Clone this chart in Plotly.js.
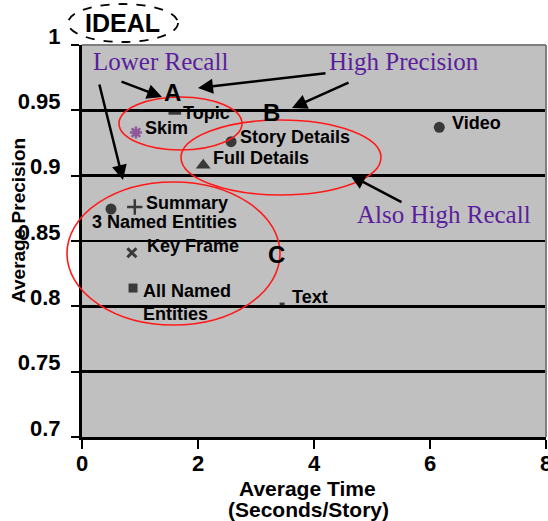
<!DOCTYPE html>
<html>
<head>
<meta charset="utf-8">
<script src="https://cdn.plot.ly/plotly-3.0.1.min.js"></script>
<style>html,body{margin:0;padding:0;background:#fff;}#chart{width:548px;height:521px;}</style>
</head>
<body>
<div id="chart"></div>
<script>
// ---- data ----
const categories = ['Topic','Skim','Story Details','Full Details','Video','Summary','3 Named Entities','Key Frame','All Named<br>Entities','Text'];
const avgTime = [1.60, 0.93, 2.57, 2.09, 6.16, 0.91, 0.50, 0.86, 0.88, 3.45];
const avgPrecision = [0.948, 0.933, 0.926, 0.908, 0.937, 0.876, 0.8745, 0.841, 0.814, 0.801];
const xTicks = [0, 2, 4, 6, 8];
const yTicks = [0.7, 0.75, 0.8, 0.85, 0.9, 0.95, 1];

// ---- styles ----
const PURPLE = '#5a1e9c';
const SANS = 'Liberation Sans, Arial, sans-serif';
const SERIF = 'Liberation Serif, Times New Roman, serif';
const markerStyle = [
  {symbol:'line-ew-open', size:9, color:'#000', lc:'#000', lw:3.5},
  {symbol:'asterisk-open', size:10, color:'#7a2a8c', lc:'#7a2a8c', lw:2.5},
  {symbol:'circle', size:11, color:'#000', lc:'#000', lw:0},
  {symbol:'triangle-up', size:13, color:'#000', lc:'#000', lw:0},
  {symbol:'circle', size:11, color:'#000', lc:'#000', lw:0},
  {symbol:'cross-thin-open', size:11, color:'#000', lc:'#000', lw:2.5},
  {symbol:'circle', size:11, color:'#000', lc:'#000', lw:0},
  {symbol:'x-thin-open', size:9, color:'#000', lc:'#000', lw:3},
  {symbol:'square', size:9, color:'#000', lc:'#000', lw:0},
  {symbol:'square', size:5, color:'#000', lc:'#000', lw:0}
];
// label offsets in pixels relative to the marker
const labelOffset = [
  [6, 0], [7, 5], [7, 5], [8, 7], [11, 4], [9, 4], [-21, -13], [13, 7], [8, -14], [8, 8]
];

// plot area geometry in pixels (for paper-referenced decorations)
const L = 82, R = 546, T = 45, B = 437;
const px = x => (x - L) / (R - L);
const py = y => (B - y) / (B - T);

const trace = {
  type: 'scatter', mode: 'markers',
  x: avgTime, y: avgPrecision, text: categories, hoverinfo: 'text',
  marker: {
    symbol: markerStyle.map(m => m.symbol),
    size: markerStyle.map(m => m.size),
    color: markerStyle.map(m => m.color),
    line: {color: markerStyle.map(m => m.lc), width: markerStyle.map(m => m.lw)}
  },
  showlegend: false, cliponaxis: false
};

const annotations = [];
categories.forEach((c, i) => {
  annotations.push({
    xref:'x', yref:'y', x: avgTime[i], y: avgPrecision[i], text: c,
    showarrow:false, xanchor:'left', yanchor:'middle', align:'left',
    xshift: labelOffset[i][0], yshift: labelOffset[i][1],
    font:{family:SANS, size:18, color:'#000', weight:'bold'}
  });
});

function textAt(t, x, y, font) {
  annotations.push({xref:'paper', yref:'paper', x: px(x), y: py(y), text: t,
    showarrow:false, xanchor:'center', yanchor:'middle', font: font});
}
const purpleFont = {family:SERIF, size:25, color:PURPLE};
const letterFont = {family:SANS, size:24, color:'#000', weight:'bold'};
textAt('IDEAL', 122, 23, {family:SANS, size:25, color:'#000', weight:'bold'});
textAt('Lower Recall', 160, 61, purpleFont);
textAt('High Precision', 404, 61, purpleFont);
textAt('Also High Recall', 444, 214, purpleFont);
textAt('A', 172, 92, letterFont);
textAt('B', 271, 113, letterFont);
textAt('C', 276, 254, letterFont);
textAt('Average Time', 307, 488, {family:SANS, size:21, color:'#000', weight:'bold'});
textAt('(Seconds/Story)', 308, 509, {family:SANS, size:21, color:'#000', weight:'bold'});
annotations.push({xref:'paper', yref:'paper', x: px(18), y: py(221), text:'Average Precision',
  textangle:-90, showarrow:false, xanchor:'center', yanchor:'middle',
  font:{family:SANS, size:19, color:'#000', weight:'bold'}});

// arrows: [headX, headY, tailX, tailY] in pixels
const arrows = [
  [123, 180, 99, 83],
  [162, 97, 120, 81],
  [198, 88, 327, 73],
  [292, 108, 350, 82],
  [350, 175, 403, 203]
];
arrows.forEach(a => {
  annotations.push({xref:'paper', yref:'paper', x: px(a[0]), y: py(a[1]),
    ax: a[2] - a[0], ay: a[3] - a[1], text:'', showarrow:true,
    arrowhead:2, arrowsize:1.2, arrowwidth:2.5, arrowcolor:'#000', standoff:0});
});

function ellipse(x0, y0, x1, y1, opts) {
  return Object.assign({type:'circle', xref:'paper', yref:'paper',
    x0: px(x0), x1: px(x1), y0: py(y1), y1: py(y0)}, opts);
}
const shapes = [
  {type:'line', xref:'paper', yref:'paper', x0:0, x1:1, y0:1, y1:1, line:{color:'#7f7f7f', width:2}},
  {type:'line', xref:'paper', yref:'paper', x0:1, x1:1, y0:0, y1:1, line:{color:'#7f7f7f', width:2}},
  ellipse(68, 4, 178, 42, {line:{color:'#000', width:1.8, dash:'dash'}, fillcolor:'#fff', layer:'below'}),
  ellipse(119, 97, 242, 150, {line:{color:'#ff1a1a', width:1.6}}),
  ellipse(181, 120, 381, 195, {line:{color:'#ff1a1a', width:1.6}}),
  ellipse(67, 182, 280, 325, {line:{color:'#ff1a1a', width:1.6}})
];

const layout = {
  width: 548, height: 521,
  margin: {l: L, r: 548 - R, t: T, b: 521 - B, pad: 0},
  paper_bgcolor: '#fff', plot_bgcolor: '#c0c0c0',
  xaxis: {range:[0, 8], tickvals: xTicks, ticktext: xTicks.map(String),
    showline:true, linecolor:'#000', linewidth:3, ticks:'outside', ticklen:9, tickwidth:2, tickcolor:'#000',
    showgrid:false, zeroline:false, fixedrange:true, ticklabeloverflow:'allow', ticklabelstandoff:-4,
    tickfont:{family:SANS, size:22, color:'#000', weight:'bold'}},
  yaxis: {range:[0.7, 1], tickvals: yTicks, ticktext: yTicks.map(String),
    showline:true, linecolor:'#000', linewidth:3, ticks:'outside', ticklen:8, tickwidth:2, tickcolor:'#000',
    showgrid:true, gridcolor:'#000', gridwidth:2.5, zeroline:false, fixedrange:true,
    ticklabelstandoff: 6, ticklabelshift: -9, ticklabeloverflow:'allow',
    tickfont:{family:SANS, size:22, color:'#000', weight:'bold'}},
  annotations: annotations,
  shapes: shapes,
  showlegend: false
};

Plotly.newPlot('chart', [trace], layout, {displayModeBar:false, staticPlot:true});
</script>
</body>
</html>
